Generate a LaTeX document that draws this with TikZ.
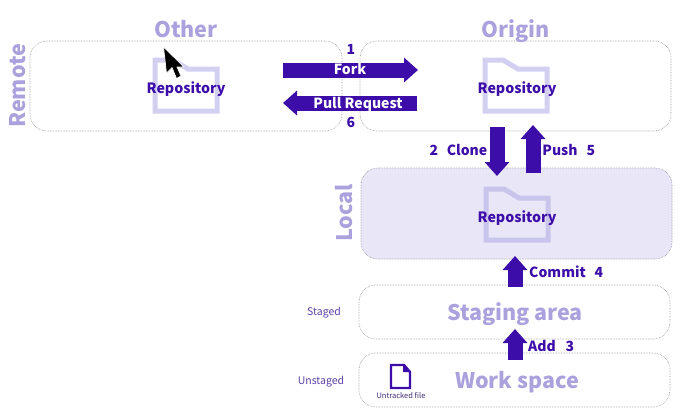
\documentclass[tikz,border=0pt]{standalone}
\usepackage{fontspec}
\setmainfont{Noto Sans CJK SC}
\usepackage{tikz}
\usetikzlibrary{arrows.meta}                % arrow tips

\definecolor{gitdark}{HTML}{3C0DA8}
\definecolor{gitlight}{HTML}{AAA1DD}
\definecolor{gitfold}{HTML}{D3CFF1}
\definecolor{gitfolddark}{HTML}{C9C4EC}
\definecolor{gitfill}{HTML}{E9E6F8}
\definecolor{gitedge}{HTML}{8F8F9A}
\definecolor{gitsmall}{HTML}{5B3FA8}

\tikzset{
    regionbox/.style={draw=gitedge, densely dotted, line width=0.6pt, rounded corners=17pt,
                      inner sep=0pt, outer sep=0pt},
    headline/.style={text=gitlight, anchor=base, font=\bfseries\fontsize{21.5}{22}\selectfont, inner sep=0pt},
    repolabel/.style={text=gitdark, anchor=base, font=\bfseries\fontsize{14.2}{15}\selectfont, inner sep=0pt},
    steplabel/.style={text=gitdark, anchor=base, font=\bfseries\fontsize{14}{14}\selectfont, inner sep=0pt},
    sidelabel/.style={text=gitsmall, anchor=base, font=\fontsize{10.5}{11}\selectfont, inner sep=0pt},
    fatarrow/.style={gitdark, line width=15pt, -{Triangle[length=14pt, width=24pt]}},
    folder/.pic={
        \draw[line width=5pt, miter limit=2] (-31,-27) -- (-13,-27) -- (2,-18) -- (31,-18)
            -- (31,24) -- (-31,24) -- cycle;
    }
}

\begin{document}
\begin{tikzpicture}[x=1pt, y=-1pt]
    \useasboundingbox (0,0) rectangle (697,413);

    % regions
    \node[regionbox, minimum width=312pt, minimum height=90pt] (other) at (186,86) {};
    \node[regionbox, minimum width=311pt, minimum height=90pt] (origin) at (515.5,86) {};
    \node[regionbox, fill=gitfill, minimum width=311pt, minimum height=91pt] (local) at (516.5,213.5) {};
    \node[regionbox, minimum width=311pt, minimum height=54pt] (staging) at (514.5,312) {};
    \node[regionbox, minimum width=311pt, minimum height=54pt] (workspace) at (514.5,380) {};

    % folders
    \draw[gitfold] (186,87) pic {folder};
    \draw[gitfold] (516,87) pic {folder};
    \draw[gitfolddark] (517,216) pic {folder};

    \node[repolabel] (otherrepo) at (186,93) {Repository};
    \node[repolabel] (originrepo) at (517,93) {Repository};
    \node[repolabel] (localrepo) at (517,222.5) {Repository};

    % headings
    \node[headline] (othertitle) at (186,37) {Other};
    \node[headline] (origintitle) at (516,37) {Origin};
    \node[headline, rotate=90] (remotetitle) at (26,86) {Remote};
    \node[headline, rotate=90] (localtitle) at (352,213) {Local};
    \node[headline] (stagingtitle) at (515,320) {Staging area};
    \node[headline] (worktitle) at (517,388) {Work space};

    \node[sidelabel] (staged) at (324,315) {Staged};
    \node[sidelabel] (unstaged) at (321,384.5) {Unstaged};

    % arrow ends
    \coordinate (forkstart) at (283,70);
    \coordinate (forkend) at (418,70);
    \coordinate (pullstart) at (417,103);
    \coordinate (pullend) at (283,103);
    \coordinate (clonestart) at (497,127);
    \coordinate (cloneend) at (497,176);
    \coordinate (pushstart) at (533,173);
    \coordinate (pushend) at (533,125);
    \coordinate (commitstart) at (515,287);
    \coordinate (commitend) at (515,256);
    \coordinate (addstart) at (515,360);
    \coordinate (addend) at (515,329);

    \foreach \a/\b in {forkstart/forkend, pullstart/pullend, clonestart/cloneend,
                       pushstart/pushend, commitstart/commitend, addstart/addend}
    {
        \draw[fatarrow] (\a) -- (\b);
    }

    % arrow labels
    \node[steplabel, text=white] (forktext) at (350,74.5) {Fork};
    \node[steplabel, text=white] (pulltext) at (358,108) {Pull Request};
    \node[steplabel] (one) at (351,54) {1};
    \node[steplabel] (six) at (351,127.5) {6};
    \node[steplabel] (two) at (434,155) {2};
    \node[steplabel] (clone) at (467,155) {Clone};
    \node[steplabel] (push) at (560,155) {Push};
    \node[steplabel] (five) at (591,155) {5};
    \node[steplabel] (commit) at (557.5,277) {Commit};
    \node[steplabel] (four) at (599,277) {4};
    \node[steplabel] (add) at (542,351) {Add};
    \node[steplabel] (three) at (570,351) {3};

    % untracked file
    \draw[gitdark, line width=2.4pt, line join=miter] (391,365) -- (404,365) -- (410,372) -- (410,388)
        -- (391,388) -- cycle;
    \fill[gitdark] (403,364) -- (411,372) -- (403,372) -- cycle;
    \node[text=gitsmall!70!black, anchor=base, font=\fontsize{7.5}{8}\selectfont, inner sep=0pt] (untracked) at (401,398.5) {Untracked file};

    % mouse pointer
    \draw[white, fill=black, line width=0.7pt, line join=round] (163.5,47) -- (166.5,73) -- (172,67.5) -- (176.5,78.5)
        -- (181,76) -- (177,67) -- (184,67) -- cycle;
\end{tikzpicture}
\end{document}
